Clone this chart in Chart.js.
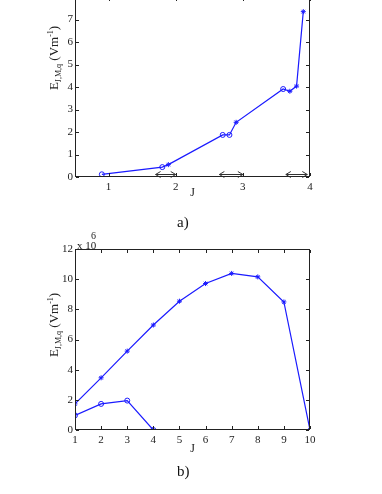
<!DOCTYPE html>
<html><head><meta charset="utf-8">
<script src="https://cdn.jsdelivr.net/npm/chart.js@4.4.1/dist/chart.umd.min.js"></script>
<style>
html,body{margin:0;padding:0;background:#fff;width:382px;height:494px;overflow:hidden;position:relative;font-family:"Liberation Serif","DejaVu Serif",serif;}
canvas{position:absolute;left:0;}
#c1{top:-13px;}
#c2{top:220px;}
.cap{position:absolute;font-size:15px;color:#111;}
.exp{position:absolute;font-size:11px;color:#222;}
</style></head><body>
<canvas id="c1" width="382" height="220" style="width:382px;height:220px"></canvas>
<canvas id="c2" width="382" height="240" style="width:382px;height:240px"></canvas>
<div class="cap" style="left:177px;top:214px;">a)</div>
<div class="cap" style="left:177px;top:463px;">b)</div>
<div class="exp" style="left:77px;top:239px;">x 10</div>
<div class="exp" style="left:91px;top:230px;font-size:10px;">6</div>
<script>
// ---- Data: chart a) ----
const topJ = [0.9, 1.8, 1.89, 2.7, 2.8, 2.9, 3.6, 3.7, 3.8, 3.9];
const topE = [0.12, 0.44, 0.55, 1.87, 1.87, 2.43, 3.91, 3.81, 4.04, 7.35];
const topXTicks = [1, 2, 3, 4];
const topYTicks = [0, 1, 2, 3, 4, 5, 6, 7, 8];
const arrowFrom = [1.7, 2.65, 3.64];
const arrowTo = [2.0, 3.0, 3.96];
const arrowY = [0.12, 0.12, 0.12];
// ---- Data: chart b) ----
const botJ = [1, 2, 3, 4, 5, 6, 7, 8, 9, 10];
const botStar = [1.73, 3.46, 5.23, 6.96, 8.54, 9.71, 10.38, 10.15, 8.49, 0];
const botCircJ = [1, 2, 3, 4];
const botCirc = [0.97, 1.73, 1.95, 0];
const botXTicks = [1, 2, 3, 4, 5, 6, 7, 8, 9, 10];
const botYTicks = [0, 2, 4, 6, 8, 10, 12];

const BLUE = '#1a1aff';
const FONT = '"Liberation Serif", "DejaVu Serif", serif';
const topMarkers = ['circle','circle','star','circle','circle','star','circle','star','star','star'];

function pts(xs, ys){ return xs.map((x,i)=>({x:x, y:ys[i]})); }

const framePlugin = {
  id:'frame',
  afterDraw(chart, args, opts){
    const ctx = chart.ctx, a = chart.chartArea;
    const xs = chart.scales.x, ys = chart.scales.y;
    const L = Math.round(a.left), R = Math.round(a.right), T = Math.round(a.top), B = Math.round(a.bottom);
    ctx.save();
    ctx.fillStyle = '#222';
    ctx.fillRect(L, T, R-L, 1);
    ctx.fillRect(L, B-1, R-L, 1);
    ctx.fillRect(L, T, 1, B-T);
    ctx.fillRect(R-1, T, 1, B-T);
    // inner ticks
    xs.ticks.forEach(t=>{ const px = Math.round(xs.getPixelForValue(t.value));
      ctx.fillRect(px, B-4, 1, 3); ctx.fillRect(px, T+1, 1, 3); });
    ys.ticks.forEach(t=>{ const py = Math.round(ys.getPixelForValue(t.value));
      ctx.fillRect(L+1, py, 3, 1); ctx.fillRect(R-4, py, 3, 1); });
    // axis titles
    ctx.font = '12px ' + FONT;
    ctx.textAlign = 'center'; ctx.textBaseline = 'middle';
    ctx.fillText('J', (a.left+a.right)/2, a.bottom + opts.jOff);
    // y title rotated
    ctx.translate(opts.yx, opts.yy);
    ctx.rotate(-Math.PI/2);
    const parts = [['E',13,0],['J,M,q',8,3],[' (Vm',13,0],['-1',8,-5],[')',13,0]];
    let w = 0;
    parts.forEach(p=>{ ctx.font = p[1]+'px '+FONT; w += ctx.measureText(p[0]).width; });
    let cx = -w/2;
    ctx.textAlign = 'left'; ctx.textBaseline = 'alphabetic';
    parts.forEach(p=>{ ctx.font = p[1]+'px '+FONT; ctx.fillText(p[0], cx, 4 + p[2]); cx += ctx.measureText(p[0]).width; });
    ctx.restore();
  }
};

const arrowPlugin = {
  id:'arrows',
  afterDatasetsDraw(chart){
    const ctx = chart.ctx, xs = chart.scales.x, ys = chart.scales.y;
    ctx.save(); ctx.strokeStyle = '#333'; ctx.lineWidth = 1;
    arrowFrom.forEach((f,i)=>{
      const x1 = xs.getPixelForValue(f), x2 = xs.getPixelForValue(arrowTo[i]);
      const y = Math.round(ys.getPixelForValue(arrowY[i]))+0.5;
      ctx.beginPath();
      ctx.moveTo(x1, y); ctx.lineTo(x2, y);
      ctx.moveTo(x1+5, y-3); ctx.lineTo(x1, y); ctx.lineTo(x1+5, y+3);
      ctx.moveTo(x2-5, y-3); ctx.lineTo(x2, y); ctx.lineTo(x2-5, y+3);
      ctx.stroke();
    });
    ctx.restore();
  }
};

function scales(xmin, xmax, xticks, ymin, ymax, yticks){
  return {
    x:{ type:'linear', min:xmin, max:xmax,
        afterBuildTicks: s=>{ s.ticks = xticks.map(v=>({value:v})); },
        afterFit: s=>{ s.height = 30; },
        grid:{display:false, drawTicks:false, tickLength:0}, border:{display:false},
        ticks:{ color:'#222', font:{family:FONT, size:11}, padding:4, maxRotation:0, autoSkip:false } },
    y:{ type:'linear', min:ymin, max:ymax,
        afterBuildTicks: s=>{ s.ticks = yticks.map(v=>({value:v})); },
        afterFit: s=>{ s.width = 75; },
        grid:{display:false, drawTicks:false, tickLength:0}, border:{display:false},
        ticks:{ color:'#222', font:{family:FONT, size:11}, padding:2, autoSkip:false } }
  };
}

const common = { responsive:false, animation:false };

new Chart(document.getElementById('c1'), {
  type:'line',
  data:{ datasets:[{ data: pts(topJ, topE), borderColor:BLUE, borderWidth:1.2, pointStyle: topMarkers,
    pointRadius:2.5, pointBorderColor:BLUE, pointBackgroundColor:'rgba(0,0,0,0)', pointBorderWidth:1, tension:0 }]},
  options: Object.assign({}, common, {
    layout:{padding:{top:10, right:72, left:0, bottom:0}},
    scales: scales(0.5, 4, topXTicks, 0, 8, topYTicks),
    plugins:{legend:{display:false}, tooltip:{enabled:false}, frame:{jOff:16, yx:54, yy:71}}
  }),
  plugins:[framePlugin, arrowPlugin]
});

new Chart(document.getElementById('c2'), {
  type:'line',
  data:{ datasets:[
    { data: pts(botJ, botStar), borderColor:BLUE, borderWidth:1.2, pointStyle:'star',
      pointRadius:2.5, pointBorderColor:BLUE, pointBorderWidth:1, tension:0 },
    { data: pts(botCircJ, botCirc), borderColor:BLUE, borderWidth:1.2, pointStyle:'circle',
      pointRadius:2.5, pointBorderColor:BLUE, pointBackgroundColor:'rgba(0,0,0,0)', pointBorderWidth:1, tension:0 }
  ]},
  options: Object.assign({}, common, {
    layout:{padding:{top:29, right:72, left:0, bottom:0}},
    scales: scales(1, 10, botXTicks, 0, 12, botYTicks),
    plugins:{legend:{display:false}, tooltip:{enabled:false}, frame:{jOff:19, yx:54, yy:105}}
  }),
  plugins:[framePlugin]
});
</script>
</body></html>
